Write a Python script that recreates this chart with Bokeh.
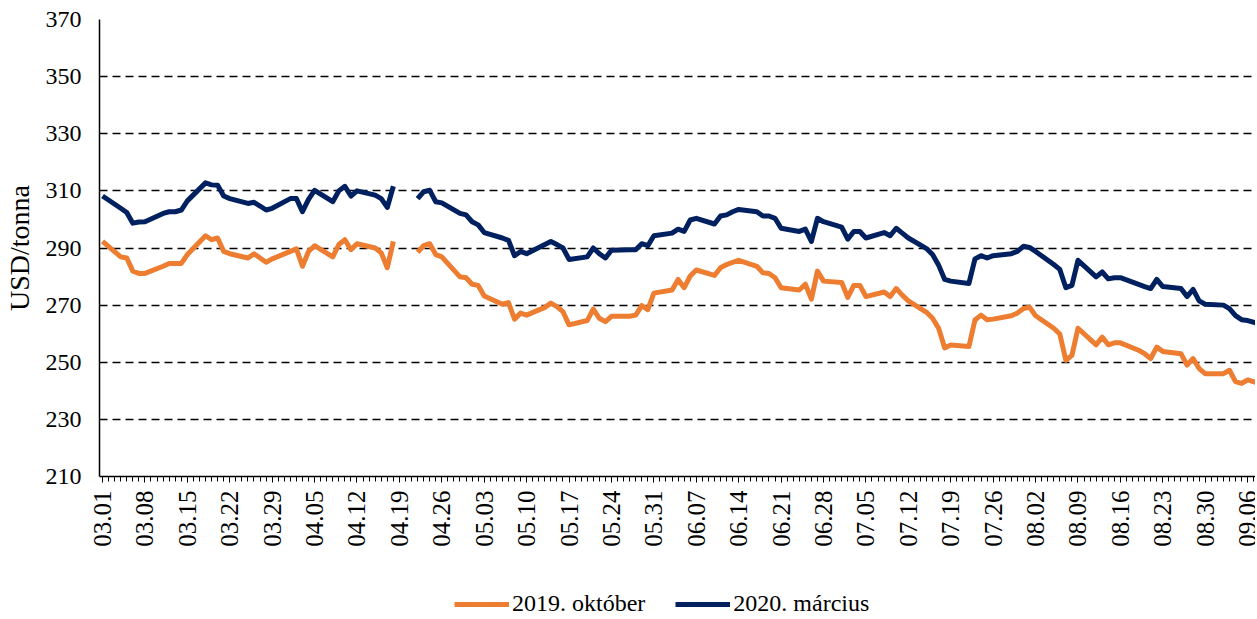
import math
import pandas as pd
from bokeh.plotting import figure
from bokeh.layouts import column
from bokeh.models import (Range1d, FixedTicker, DatetimeTickFormatter, Legend,
                          LegendItem, ColumnDataSource)
from bokeh.embed import file_html
from bokeh.resources import INLINE

# ---------------- data ----------------
dates = [
    "03.01",
    "03.04", "03.05", "03.06", "03.07", "03.08",
    "03.11", "03.12", "03.13", "03.14", "03.15",
    "03.18", "03.19", "03.20", "03.21", "03.22",
    "03.25", "03.26", "03.27", "03.28", "03.29",
    "04.01", "04.02", "04.03", "04.04", "04.05",
    "04.08", "04.09", "04.10", "04.11", "04.12",
    "04.15", "04.16", "04.17", "04.18", "04.19",
    "04.22", "04.23", "04.24", "04.25", "04.26",
    "04.29", "04.30", "05.01", "05.02", "05.03",
    "05.06", "05.07", "05.08", "05.09", "05.10",
    "05.13", "05.14", "05.15", "05.16", "05.17",
    "05.20", "05.21", "05.22", "05.23", "05.24",
    "05.27", "05.28", "05.29", "05.30", "05.31",
    "06.03", "06.04", "06.05", "06.06", "06.07",
    "06.10", "06.11", "06.12", "06.13", "06.14",
    "06.17", "06.18", "06.19", "06.20", "06.21",
    "06.24", "06.25", "06.26", "06.27", "06.28",
    "07.01", "07.02", "07.03", "07.04", "07.05",
    "07.08", "07.09", "07.10", "07.11", "07.12",
    "07.15", "07.16", "07.17", "07.18", "07.19",
    "07.22", "07.23", "07.24", "07.25", "07.26",
    "07.29", "07.30", "07.31", "08.01", "08.02",
    "08.05", "08.06", "08.07", "08.08", "08.09",
    "08.12", "08.13", "08.14", "08.15", "08.16",
    "08.19", "08.20", "08.21", "08.22", "08.23",
    "08.26", "08.27", "08.28", "08.29", "08.30",
    "09.02", "09.03", "09.04", "09.05", "09.06",
    "09.09",
]

okt_2019 = [
    292.3,
    286.9, 286.5, 281.9, 281.1, 281.1,
    283.6, 284.6, 284.6, 284.6, 287.7,
    294.3, 292.9, 293.5, 288.8, 288.0,
    286.5, 288.0, 286.5, 285.0, 286.2,
    288.8, 289.7, 283.6, 288.8, 290.8,
    286.9, 291.2, 292.9, 289.4, 291.5,
    290.0, 288.3, 283.1, 292.3, None,
    288.5, 290.8, 291.5, 287.7, 286.9,
    279.9, 279.6, 277.3, 276.9, 273.2,
    270.3, 270.9, 265.1, 267.2, 266.5,
    269.2, 270.7, 269.5, 267.7, 263.1,
    264.6, 268.6, 265.4, 264.2, 266.1,
    266.1, 266.5, 269.8, 268.4, 274.2,
    275.3, 279.0, 276.1, 280.2, 282.3,
    280.4, 283.1, 284.2, 285.0, 285.7,
    283.6, 281.3, 281.1, 279.6, 276.1,
    275.3, 277.3, 272.1, 281.9, 278.4,
    277.9, 272.7, 276.9, 276.9, 273.0,
    274.6, 273.0, 275.8, 273.5, 271.5,
    267.5, 265.4, 261.9, 255.0, 256.0,
    255.5, 264.8, 266.5, 264.9, 265.1,
    266.3, 267.2, 268.8, 269.3, 266.3,
    261.9, 259.9, 250.7, 252.4, 261.9,
    256.1, 258.8, 256.1, 256.8, 256.8,
    254.2, 253.0, 251.3, 255.3, 253.8,
    253.0, 249.0, 251.3, 247.8, 246.0,
    246.0, 247.2, 243.2, 242.6, 243.8,
    242.0,
]

mar_2020 = [
    308.2,
    303.9, 302.4, 298.7, 299.1, 299.2,
    302.1, 302.7, 302.7, 303.3, 306.5,
    312.8, 312.1, 312.0, 308.2, 307.3,
    305.6, 306.0, 304.7, 303.3, 303.9,
    307.3, 307.3, 302.7, 307.0, 310.2,
    306.2, 310.0, 311.6, 308.2, 310.0,
    308.5, 307.3, 304.2, 311.6, None,
    307.3, 309.7, 310.2, 306.2, 305.8,
    302.1, 301.6, 299.2, 298.1, 295.4,
    293.5, 292.7, 287.3, 288.8, 288.0,
    291.2, 292.3, 291.2, 290.0, 286.0,
    286.9, 290.0, 288.0, 286.5, 289.2,
    289.4, 289.4, 291.5, 290.8, 294.3,
    295.2, 296.6, 295.8, 299.8, 300.4,
    298.4, 301.2, 301.6, 302.7, 303.5,
    302.7, 301.2, 301.2, 300.4, 296.9,
    295.8, 296.6, 292.3, 300.4, 299.2,
    297.3, 293.1, 295.8, 295.8, 293.5,
    295.4, 294.3, 296.9, 295.2, 293.5,
    289.8, 287.7, 284.0, 279.0, 278.4,
    277.6, 286.2, 287.3, 286.5, 287.3,
    288.0, 288.8, 290.6, 290.2, 288.8,
    284.2, 282.5, 276.1, 276.9, 285.7,
    279.9, 281.6, 279.2, 279.6, 279.6,
    277.3, 276.5, 275.8, 279.0, 276.5,
    275.8, 273.0, 275.5, 271.5, 270.3,
    270.0, 268.8, 266.3, 264.9, 264.6,
    262.8,
]

tick_labels = ["03.01", "03.08", "03.15", "03.22", "03.29", "04.05", "04.12",
               "04.19", "04.26", "05.03", "05.10", "05.17", "05.24", "05.31",
               "06.07", "06.14", "06.21", "06.28", "07.05", "07.12", "07.19",
               "07.26", "08.02", "08.09", "08.16", "08.23", "08.30", "09.06"]
y_ticks = [210, 230, 250, 270, 290, 310, 330, 350, 370]

series_names = ["2019. október", "2020. március"]
series_colors = ["#ED7D31", "#002060"]

# ---------------- build ----------------
YEAR = "2019."
x = pd.to_datetime([YEAR + d for d in dates], format="%Y.%m.%d")
src = ColumnDataSource(data=dict(
    x=x,
    okt=[float("nan") if v is None else v for v in okt_2019],
    mar=[float("nan") if v is None else v for v in mar_2020],
))

first_day = pd.Timestamp(x[0])
x_start = first_day - pd.Timedelta(hours=12)
x_end = x_start + pd.Timedelta(days=190.8)

major = pd.to_datetime([YEAR + t for t in tick_labels], format="%Y.%m.%d")
minor = pd.date_range(first_day, x_end, freq="D")
to_ms = lambda ts: [t.value / 1e6 for t in ts]

FONT = "Liberation Serif"
LW = 5
W = 1255
LEFT = 99

p = figure(width=W, height=568, x_axis_type="datetime",
           output_backend="svg", toolbar_location=None,
           x_range=Range1d(x_start, x_end), y_range=Range1d(210, 370),
           min_border_left=LEFT, min_border_top=19, min_border_right=0,
           min_border_bottom=92)
p.outline_line_color = None
p.background_fill_color = "white"
p.border_fill_color = "white"

# y axis
p.yaxis.ticker = FixedTicker(ticks=y_ticks)
p.yaxis.axis_label = "USD/tonna"
p.yaxis.axis_label_text_font = FONT
p.yaxis.axis_label_text_font_size = "28px"
p.yaxis.axis_label_text_font_style = "normal"
p.yaxis.axis_label_text_color = "black"
p.yaxis.axis_label_standoff = 8
p.yaxis.major_label_text_font = FONT
p.yaxis.major_label_text_font_size = "24px"
p.yaxis.major_label_text_color = "black"
p.yaxis.major_label_standoff = 18
p.yaxis.major_tick_out = 0
p.yaxis.major_tick_in = 0
p.yaxis.minor_tick_out = 0
p.yaxis.minor_tick_in = 0
p.yaxis.axis_line_color = "black"
p.yaxis.axis_line_width = 1.5

# x axis
p.xaxis.ticker = FixedTicker(ticks=to_ms(major), minor_ticks=to_ms(minor))
fmt = "%m.%d"
p.xaxis.formatter = DatetimeTickFormatter(
    microseconds=fmt, milliseconds=fmt, seconds=fmt, minsec=fmt, minutes=fmt,
    hourmin=fmt, hours=fmt, days=fmt, months=fmt, years=fmt)
p.xaxis.major_label_orientation = math.pi / 2
p.xaxis.major_label_text_font = FONT
p.xaxis.major_label_text_font_size = "25px"
p.xaxis.major_label_text_color = "black"
p.xaxis.major_label_standoff = 8
p.xaxis.major_tick_out = 6
p.xaxis.major_tick_in = 0
p.xaxis.minor_tick_out = 5
p.xaxis.minor_tick_in = 0
p.xaxis.major_tick_line_color = "black"
p.xaxis.minor_tick_line_color = "black"
p.xaxis.axis_line_color = "black"
p.xaxis.axis_line_width = 1.5

# grid
p.xgrid.grid_line_color = None
p.ygrid.ticker = FixedTicker(ticks=y_ticks)
p.ygrid.grid_line_color = "black"
p.ygrid.grid_line_width = 1.7
p.ygrid.grid_line_dash = "8 5"

# lines
p.line("x", "okt", source=src, color=series_colors[0], line_width=LW,
       line_join="round")
p.line("x", "mar", source=src, color=series_colors[1], line_width=LW,
       line_join="round")

# legend strip (separate small figure below the chart; its frame is aligned
# with the chart frame by the column layout)
lf = figure(width=W, height=49, output_backend="svg", toolbar_location=None,
            x_range=Range1d(0, 1), y_range=Range1d(0, 1),
            x_axis_location=None, y_axis_location=None,
            min_border_left=LEFT, min_border_right=0, min_border_top=0,
            min_border_bottom=0)
lf.outline_line_color = None
lf.xgrid.visible = False
lf.ygrid.visible = False
nan = float("nan")
k1 = lf.line(x=[nan], y=[nan], color=series_colors[0], line_width=LW)
k2 = lf.line(x=[nan], y=[nan], color=series_colors[1], line_width=LW)
legend = Legend(items=[LegendItem(label=series_names[0], renderers=[k1]),
                       LegendItem(label=series_names[1], renderers=[k2])],
                orientation="horizontal", location=(355, 0),
                border_line_color=None, background_fill_alpha=0,
                glyph_width=55, glyph_height=26, label_standoff=3, spacing=30,
                padding=0, margin=0,
                label_text_font=FONT, label_text_font_size="24px",
                label_text_color="black")
lf.add_layout(legend, "center")

layout = column(p, lf, spacing=0)
open("out.html", "w").write(file_html(layout, INLINE))
